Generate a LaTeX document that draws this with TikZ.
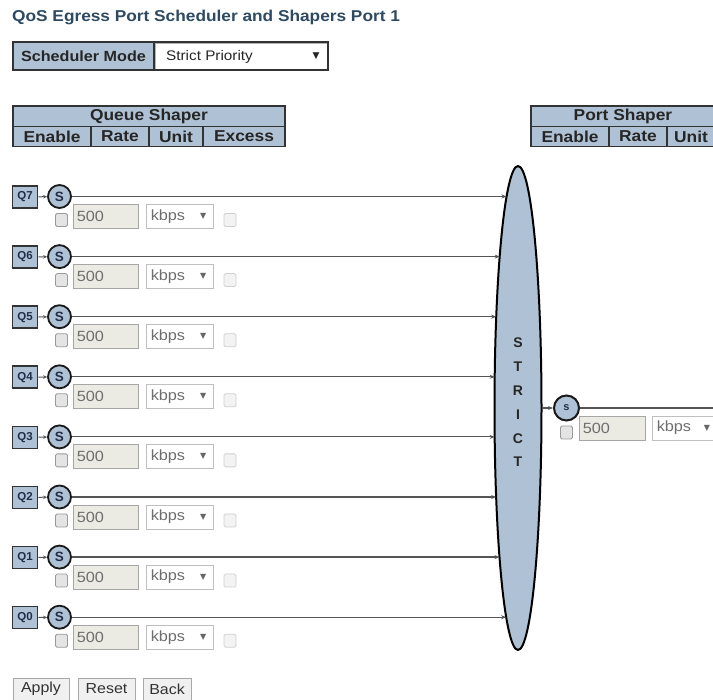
\documentclass[tikz,border=0pt]{standalone}
\usepackage{graphicx}
\usepackage{fontspec}
\setmainfont{Liberation Sans}
\newfontfamily\dejavu{DejaVu Sans}
\usetikzlibrary{arrows.meta,shapes.geometric}
\definecolor{hdr}{HTML}{AFC1D4}
\definecolor{ttl}{HTML}{2E4A62}
\definecolor{bord}{HTML}{333333}
\definecolor{wire}{HTML}{555555}
\definecolor{ratefill}{HTML}{EBEBE4}
\definecolor{graytxt}{HTML}{6E6E6E}
\definecolor{cbfill}{HTML}{E4E4E4}
\definecolor{cbbord}{HTML}{9A9A9A}
\definecolor{xbfill}{HTML}{F3F3F3}
\definecolor{xbbord}{HTML}{D0D0D0}
\definecolor{btnfill}{HTML}{F0F0F0}
\definecolor{btnbord}{HTML}{A8A8A8}
\definecolor{navy}{HTML}{1F2F4A}
\newcommand\fsz[1]{\fontsize{#1}{#1}\selectfont}
\newcommand\hst[1]{\scalebox{1.1}[1]{#1}}
\tikzset{
  hcell/.style={draw=bord, line width=1.3pt, fill=hdr, inner sep=0pt, minimum height=20pt, font=\fsz{15.8}\bfseries, text=black!85},
  qbox/.style={draw=bord, line width=1.6pt, fill=hdr, inner sep=0pt, minimum width=25pt, minimum height=22pt, font=\fsz{11.5}\bfseries, text=navy},
  scirc/.style={circle, draw=black!90, line width=1.8pt, fill=hdr, inner sep=0pt, minimum size=23pt, font=\fsz{13.5}\bfseries, text=navy},
  qarrow/.style={draw=wire, line width=1pt, -{Stealth[length=4pt,width=3.5pt]}},
  wirearrow/.style={draw=wire, line width=1.2pt, -{Stealth[length=5pt,width=4pt]}},
  wireline/.style={draw=wire, line width=1.2pt},
  cbox/.style={draw=cbbord, line width=0.8pt, fill=cbfill, rounded corners=1.5pt, inner sep=0pt, minimum width=12pt, minimum height=13pt},
  xbox/.style={draw=xbbord, line width=0.8pt, fill=xbfill, rounded corners=1.5pt, inner sep=0pt, minimum width=12pt, minimum height=13pt},
  ratebox/.style={draw=black!35, line width=0.9pt, fill=ratefill, inner sep=0pt, minimum width=65pt, minimum height=24pt},
  unitbox/.style={draw=black!25, line width=0.9pt, fill=white, inner sep=0pt, minimum width=67pt, minimum height=24pt},
  valtext/.style={inner sep=0pt, font=\fsz{14.8}, text=graytxt},
  tri/.style={inner sep=0pt, font=\dejavu\fsz{8}, text=black!60},
  btn/.style={draw=btnbord, line width=0.9pt, fill=btnfill, inner sep=0pt, minimum height=22pt, font=\fsz{14.5}, text=black!80},
  strictletter/.style={inner sep=0pt, font=\fsz{14}\bfseries, text=black!85}
}
\begin{document}
\begin{tikzpicture}[x=1pt,y=-1pt]
\useasboundingbox (0,0) rectangle (713,700);
\clip (0,0) rectangle (713,700);
\fill[white] (0,0) rectangle (713,700);
% title
\node[anchor=base west, inner sep=0pt, text=ttl, font=\fsz{15.7}\bfseries] (title) at (12,22) {\hst{QoS Egress Port Scheduler and Shapers Port 1}};
% scheduler mode
\node[hcell, minimum width=141pt, minimum height=28pt, font=\fsz{14.7}\bfseries] (sml) at (83.5,56) {\hst{Scheduler Mode}};
\node[draw=black!30, line width=0.9pt, fill=white, inner sep=0pt, minimum width=172pt, minimum height=26pt] (sel) at (241,56) {};
\node[anchor=base west, inner sep=0pt, font=\fsz{13.9}, text=black!85] (selt) at (166,61) {\hst{Strict Priority}};
\node[inner sep=0pt, font=\dejavu\fsz{9}, text=black!85] (selarr) at (316,56) {▼};
\draw[bord, line width=1.5pt] (13,42) rectangle (328,70);
% queue shaper header
\node[hcell, minimum width=272pt, minimum height=21pt] (qsh) at (149,116.5) {\hst{Queue Shaper}};
\node[hcell, minimum width=78pt] (qen) at (52,136.5) {\hst{Enable}};
\node[hcell, minimum width=58pt] (qra) at (120,136.5) {\hst{Rate}};
\node[hcell, minimum width=54pt] (qun) at (176,136.5) {\hst{Unit}};
\node[hcell, minimum width=82pt] (qex) at (244,136.5) {\hst{Excess}};
% port shaper header
\node[hcell, minimum width=184pt, minimum height=21pt] (psh) at (623,116.5) {\hst{Port Shaper}};
\node[hcell, minimum width=78pt] (pen) at (570,136.5) {\hst{Enable}};
\node[hcell, minimum width=58pt] (pra) at (638,136.5) {\hst{Rate}};
\node[hcell, minimum width=48pt] (pun) at (691,136.5) {\hst{Unit}};
% strict ellipse
\node[ellipse, draw=black, line width=2pt, fill=hdr, inner sep=0pt, minimum width=47pt, minimum height=484pt] (ell) at (518,408) {};
\foreach \l [count=\k from 0] in {S,T,R,I,C,T}
  \node[strictletter] (st\k) at (518,{343+23.8*\k}) {\l};
% queue rows
\foreach \i in {7,6,5,4,3,2,1,0} {
  \pgfmathsetmacro\c{196.5+60.1*(7-\i)}
  \pgfmathsetmacro\xe{518-23.5*sqrt(1-((\c-408)/242)^2)}
  \node[qbox] (q\i) at (25,\c+0.5) {Q\i};
  \node[scirc] (s\i) at (59.5,\c) {S};
  \draw[qarrow] (q\i) -- (s\i);
  \coordinate (e\i) at (\xe,\c);
  \draw[wirearrow] (s\i.east) -- (e\i);
  \node[cbox] (cb\i) at (61.5,\c+23.5) {};
  \node[ratebox] (r\i) at (105.5,\c+20) {};
  \node[valtext, anchor=west] (rv\i) at ([xshift=4pt]r\i.west) {\hst{500}};
  \node[unitbox] (u\i) at (179.5,\c+20) {};
  \node[valtext, anchor=west] (uv\i) at ([xshift=5pt]u\i.west) {\hst{kbps}};
  \node[tri, anchor=east] (ut\i) at ([xshift=-7pt]u\i.east) {▼};
  \node[xbox] (x\i) at (230,\c+23.5) {};
}
% port shaper row
\node[scirc, minimum size=25pt, line width=2pt, font=\fsz{11}\bfseries] (ps) at (566.5,408) {s};
\draw[wirearrow] (ell.east) -- (ps.west);
\coordinate (pend) at (713,408);
\draw[wireline] (ps.east) -- (pend);
\node[cbox] (pcb) at (566.5,432.5) {};
\node[ratebox, minimum width=66pt] (pr) at (612,428) {};
\node[valtext, anchor=west] (prv) at ([xshift=4pt]pr.west) {\hst{500}};
\node[unitbox, minimum width=70pt] (pu) at (687,428) {};
\node[valtext, anchor=west] (puv) at ([xshift=5pt]pu.west) {\hst{kbps}};
\node[tri] (put) at (707,428) {▼};
% buttons
\node[btn, minimum width=56pt] (apply) at (41,689) {\hst{Apply}};
\node[btn, minimum width=57pt] (reset) at (106.5,689) {\hst{Reset}};
\node[btn, minimum width=48pt] (back) at (167,689) {\hst{Back}};
\end{tikzpicture}
\end{document}
